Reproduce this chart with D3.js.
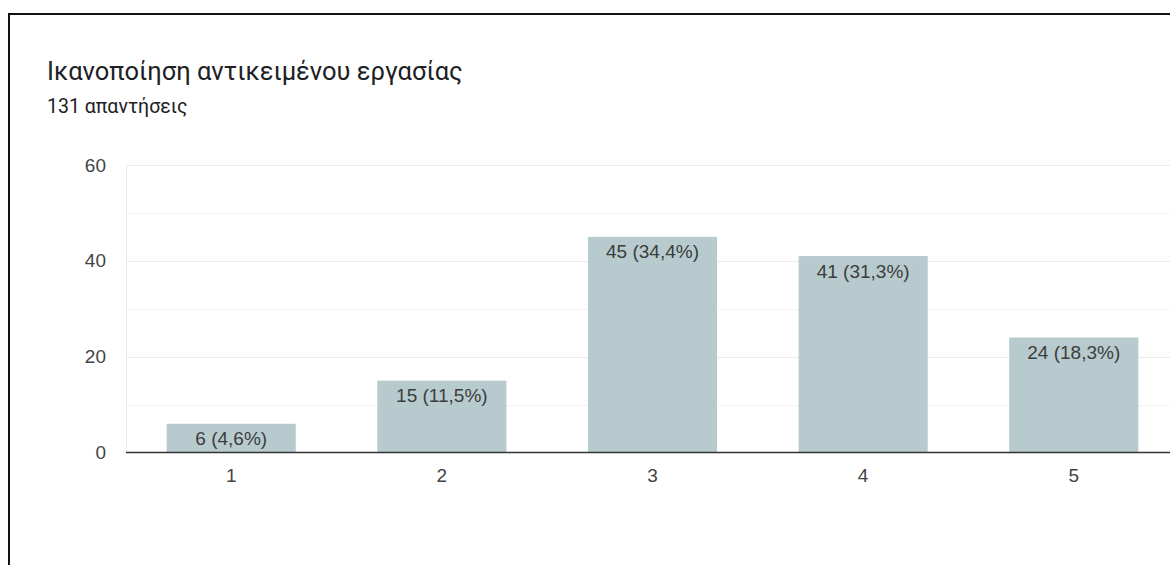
<!DOCTYPE html>
<html>
<head>
<meta charset="utf-8">
<script src="https://cdn.jsdelivr.net/npm/d3@7"></script>
<style>
  html, body { margin: 0; padding: 0; background: #fff; overflow: hidden; }
  svg { display: block; }
</style>
</head>
<body>
<svg id="chart" width="1170" height="565"></svg>
<script>
// Survey answers on a 1–5 scale
const categories = ["1", "2", "3", "4", "5"];
const counts = [6, 15, 45, 41, 24];
const valueLabels = ["6 (4,6%)", "15 (11,5%)", "45 (34,4%)", "41 (31,3%)", "24 (18,3%)"];
const yTicks = [0, 20, 40, 60];
const yMinorTicks = [10, 30, 50];
const titleText = "Ικανοποίηση αντικειμένου εργασίας";
const subtitleText = "131 απαντήσεις";

const svg = d3.select("#chart");

// card frame
svg.append("rect")
  .attr("x", 9).attr("y", 14)
  .attr("width", 1300).attr("height", 700)
  .attr("fill", "#fff")
  .attr("stroke", "#111").attr("stroke-width", 2);

svg.append("text")
  .attr("x", 47).attr("y", 80)
  .attr("font-family", "Roboto, sans-serif")
  .attr("font-size", 25.5)
  .attr("fill", "#202124")
  .text(titleText);

svg.append("text")
  .attr("x", 47).attr("y", 113)
  .attr("font-family", "Roboto, sans-serif")
  .attr("font-size", 19.5)
  .attr("fill", "#202124")
  .text(subtitleText);

const plotLeft = 126, plotRight = 1179;
const x = d3.scaleBand()
  .domain(categories)
  .range([plotLeft, plotRight])
  .paddingInner(0.387)
  .paddingOuter(0.193);

const y = d3.scaleLinear().domain([0, 60]).range([452.5, 165]);

const font = "'Liberation Sans', Arial, sans-serif";

// minor gridlines
svg.append("g").selectAll("line").data(yMinorTicks).join("line")
  .attr("x1", plotLeft).attr("x2", 1170)
  .attr("y1", d => Math.round(y(d)) + 0.5).attr("y2", d => Math.round(y(d)) + 0.5)
  .attr("stroke", "#f3f3f3");

// major gridlines
svg.append("g").selectAll("line").data(yTicks.filter(d => d > 0)).join("line")
  .attr("x1", plotLeft).attr("x2", 1170)
  .attr("y1", d => Math.round(y(d)) + 0.5).attr("y2", d => Math.round(y(d)) + 0.5)
  .attr("stroke", "#ebebeb");

// left edge of plot
svg.append("line")
  .attr("x1", plotLeft + 0.5).attr("x2", plotLeft + 0.5)
  .attr("y1", y(60)).attr("y2", y(0))
  .attr("stroke", "#ebebeb");

// y axis labels
const yAxis = d3.axisLeft(y).tickValues(yTicks).tickSize(0).tickPadding(20);
const gy = svg.append("g").attr("transform", `translate(${plotLeft},0)`).call(yAxis);
gy.select(".domain").remove();
gy.selectAll("text")
  .attr("font-family", font).attr("font-size", 19).attr("fill", "#444");

// bars
svg.append("g").selectAll("rect").data(counts).join("rect")
  .attr("x", (d, i) => x(categories[i]))
  .attr("y", d => y(d))
  .attr("width", x.bandwidth())
  .attr("height", d => y(0) - y(d))
  .attr("fill", "#b7cbce");

// value labels inside bars
svg.append("g").selectAll("text").data(counts).join("text")
  .attr("x", (d, i) => x(categories[i]) + x.bandwidth() / 2)
  .attr("y", d => y(d) + 21.5)
  .attr("text-anchor", "middle")
  .attr("font-family", font).attr("font-size", 19).attr("fill", "#3d3d3d")
  .text((d, i) => valueLabels[i]);

// x axis
const xAxis = d3.axisBottom(x).tickSize(0).tickPadding(16);
const gx = svg.append("g").attr("transform", `translate(0,${y(0)})`).call(xAxis);
gx.select(".domain").attr("stroke", "#333").attr("stroke-width", 1.3)
  .attr("d", `M${plotLeft},0H1170`);
gx.selectAll("text")
  .attr("font-family", font).attr("font-size", 19).attr("fill", "#444");
</script>
</body>
</html>
